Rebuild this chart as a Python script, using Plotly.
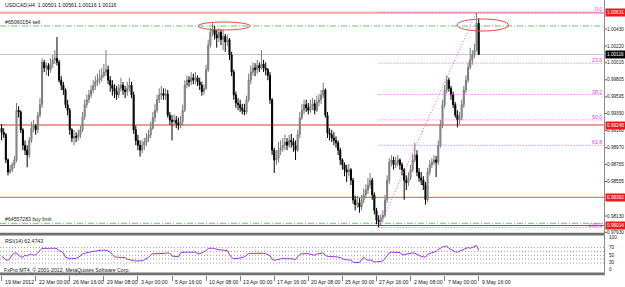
import plotly.graph_objects as go

W, H = 625, 287


def py(p):
    return (H - p) / H


def pxx(p):
    return p / W


symbol_line = "USDCAD,H4  1.00501 1.00561 1.00116 1.00116"
first_open = 0.9921

close = [
    0.9916, 0.9913, 0.9882, 0.9867, 0.9870, 0.9876, 0.9882, 0.9943, 0.9941, 0.9919,
    0.9900, 0.9894, 0.9888, 0.9906, 0.9921, 0.9924, 0.9919, 0.9937, 0.9950, 1.0002,
    0.9995, 0.9998, 0.9993, 1.0000, 1.0005, 1.0007, 1.0002, 0.9980, 0.9974, 0.9968,
    0.9950, 0.9943, 0.9919, 0.9909, 0.9911, 0.9910, 0.9913, 0.9919, 0.9935, 0.9950,
    0.9956, 0.9962, 0.9968, 0.9973, 0.9978, 0.9980, 0.9983, 0.9986, 0.9990, 0.9993,
    0.9980, 0.9974, 0.9970, 0.9966, 0.9962, 0.9970, 0.9974, 0.9968, 0.9966, 0.9970,
    0.9974, 0.9962, 0.9919, 0.9906, 0.9900, 0.9894, 0.9900, 0.9904, 0.9909, 0.9913,
    0.9921, 0.9934, 0.9943, 0.9956, 0.9962, 0.9964, 0.9961, 0.9963, 0.9937, 0.9931,
    0.9929, 0.9931, 0.9927, 0.9925, 0.9929, 0.9943, 0.9974, 0.9980, 0.9978, 0.9983,
    0.9980, 0.9983, 0.9978, 0.9974, 0.9966, 0.9970, 0.9993, 1.0023, 1.0039, 1.0042,
    1.0036, 1.0032, 1.0039, 1.0030, 1.0034, 1.0027, 1.0030, 1.0011, 0.9990, 0.9962,
    0.9952, 0.9950, 0.9946, 0.9943, 0.9941, 0.9956, 0.9980, 0.9990, 0.9995, 0.9993,
    0.9998, 0.9995, 1.0000, 0.9995, 0.9993, 0.9986, 0.9956, 0.9894, 0.9882, 0.9884,
    0.9894, 0.9897, 0.9900, 0.9904, 0.9900, 0.9906, 0.9904, 0.9900, 0.9894, 0.9913,
    0.9934, 0.9943, 0.9950, 0.9946, 0.9943, 0.9948, 0.9951, 0.9943, 0.9953, 0.9956,
    0.9962, 0.9968, 0.9937, 0.9915, 0.9913, 0.9909, 0.9906, 0.9903, 0.9894, 0.9882,
    0.9876, 0.9870, 0.9867, 0.9870, 0.9857, 0.9833, 0.9827, 0.9829, 0.9824, 0.9833,
    0.9839, 0.9845, 0.9851, 0.9857, 0.9839, 0.9820, 0.9808, 0.9806, 0.9811, 0.9814,
    0.9833, 0.9857, 0.9879, 0.9882, 0.9876, 0.9878, 0.9882, 0.9876, 0.9870, 0.9857,
    0.9854, 0.9860, 0.9870, 0.9882, 0.9888, 0.9867, 0.9860, 0.9857, 0.9851, 0.9833,
    0.9867, 0.9876, 0.9879, 0.9882, 0.9879, 0.9900, 0.9925, 0.9950, 0.9968, 0.9980,
    0.9970, 0.9962, 0.9950, 0.9937, 0.9931, 0.9934, 0.9950, 0.9968, 0.9980, 0.9996,
    1.0005, 1.0011, 1.0017, 1.0050, 1.00116,
]

high = [
    0.9926, 0.9921, 0.9915, 0.9884, 0.9876, 0.9879, 0.9887, 0.9952, 0.9948, 0.9943,
    0.9921, 0.9906, 0.9900, 0.9910, 0.9929, 0.9931, 0.9926, 0.9941, 0.9958, 1.0007,
    1.0005, 1.0002, 1.0001, 1.0007, 1.0011, 1.0017, 1.0033, 1.0005, 0.9985, 0.9978,
    0.9970, 0.9956, 0.9946, 0.9921, 0.9919, 0.9916, 0.9919, 0.9924, 0.9941, 0.9956,
    0.9962, 0.9968, 0.9974, 0.9980, 0.9985, 0.9988, 0.9993, 0.9995, 1.0000, 1.0017,
    0.9998, 0.9985, 0.9980, 0.9975, 0.9973, 0.9975, 0.9983, 0.9978, 0.9973, 0.9978,
    0.9983, 0.9978, 0.9966, 0.9924, 0.9913, 0.9906, 0.9906, 0.9909, 0.9915, 0.9919,
    0.9929, 0.9941, 0.9951, 0.9962, 0.9970, 0.9973, 0.9970, 0.9970, 0.9968, 0.9941,
    0.9937, 0.9938, 0.9936, 0.9934, 0.9936, 0.9950, 0.9980, 0.9986, 0.9985, 0.9990,
    0.9988, 0.9990, 0.9986, 0.9983, 0.9978, 0.9975, 0.9999, 1.0030, 1.0044, 1.0050,
    1.0047, 1.0042, 1.0044, 1.0042, 1.0042, 1.0037, 1.0036, 1.0032, 1.0015, 0.9993,
    0.9966, 0.9958, 0.9956, 0.9951, 0.9951, 0.9961, 0.9988, 0.9998, 1.0002, 1.0001,
    1.0005, 1.0002, 1.0017, 1.0005, 1.0002, 0.9995, 0.9990, 0.9958, 0.9897, 0.9894,
    0.9904, 0.9906, 0.9909, 0.9913, 0.9909, 0.9913, 0.9914, 0.9909, 0.9906, 0.9919,
    0.9941, 0.9951, 0.9956, 0.9956, 0.9952, 0.9956, 0.9958, 0.9956, 0.9961, 0.9963,
    0.9968, 0.9977, 0.9970, 0.9941, 0.9921, 0.9919, 0.9916, 0.9911, 0.9906, 0.9897,
    0.9884, 0.9879, 0.9876, 0.9877, 0.9872, 0.9860, 0.9838, 0.9838, 0.9835, 0.9839,
    0.9847, 0.9852, 0.9860, 0.9866, 0.9860, 0.9842, 0.9823, 0.9814, 0.9815, 0.9820,
    0.9839, 0.9863, 0.9884, 0.9888, 0.9886, 0.9886, 0.9888, 0.9884, 0.9879, 0.9872,
    0.9863, 0.9867, 0.9876, 0.9889, 0.9903, 0.9894, 0.9872, 0.9867, 0.9862, 0.9855,
    0.9872, 0.9882, 0.9884, 0.9888, 0.9887, 0.9906, 0.9931, 0.9956, 0.9974, 0.9986,
    0.9983, 0.9973, 0.9966, 0.9953, 0.9943, 0.9941, 0.9956, 0.9973, 0.9986, 1.0002,
    1.0020, 1.0017, 1.0025, 1.0063, 1.00561,
]

low = [
    0.9906, 0.9909, 0.9878, 0.9863, 0.9865, 0.9867, 0.9872, 0.9879, 0.9934, 0.9915,
    0.9894, 0.9888, 0.9873, 0.9884, 0.9903, 0.9916, 0.9913, 0.9915, 0.9934, 0.9946,
    0.9990, 0.9986, 0.9985, 0.9989, 0.9995, 1.0000, 0.9998, 0.9977, 0.9968, 0.9962,
    0.9946, 0.9937, 0.9913, 0.9904, 0.9900, 0.9904, 0.9906, 0.9909, 0.9916, 0.9931,
    0.9946, 0.9952, 0.9958, 0.9964, 0.9968, 0.9973, 0.9975, 0.9978, 0.9983, 0.9985,
    0.9975, 0.9966, 0.9961, 0.9958, 0.9956, 0.9958, 0.9966, 0.9962, 0.9958, 0.9961,
    0.9966, 0.9958, 0.9914, 0.9900, 0.9894, 0.9886, 0.9890, 0.9894, 0.9899, 0.9904,
    0.9909, 0.9919, 0.9929, 0.9940, 0.9952, 0.9956, 0.9956, 0.9956, 0.9934, 0.9925,
    0.9906, 0.9924, 0.9921, 0.9919, 0.9921, 0.9924, 0.9941, 0.9970, 0.9972, 0.9974,
    0.9975, 0.9975, 0.9973, 0.9968, 0.9961, 0.9962, 0.9968, 0.9990, 1.0020, 1.0034,
    1.0030, 1.0020, 1.0027, 1.0023, 1.0017, 1.0015, 1.0022, 1.0005, 0.9985, 0.9956,
    0.9946, 0.9943, 0.9941, 0.9938, 0.9937, 0.9938, 0.9953, 0.9975, 0.9986, 0.9985,
    0.9988, 0.9990, 0.9993, 0.9990, 0.9986, 0.9980, 0.9951, 0.9888, 0.9866, 0.9876,
    0.9879, 0.9888, 0.9892, 0.9894, 0.9894, 0.9897, 0.9897, 0.9892, 0.9882, 0.9892,
    0.9909, 0.9931, 0.9938, 0.9941, 0.9938, 0.9940, 0.9943, 0.9938, 0.9941, 0.9948,
    0.9951, 0.9958, 0.9934, 0.9909, 0.9906, 0.9904, 0.9900, 0.9897, 0.9888, 0.9876,
    0.9870, 0.9862, 0.9855, 0.9862, 0.9851, 0.9828, 0.9820, 0.9823, 0.9817, 0.9820,
    0.9829, 0.9835, 0.9840, 0.9847, 0.9833, 0.9815, 0.9803, 0.9799, 0.9802, 0.9806,
    0.9811, 0.9829, 0.9852, 0.9874, 0.9870, 0.9872, 0.9874, 0.9870, 0.9863, 0.9833,
    0.9845, 0.9850, 0.9857, 0.9867, 0.9879, 0.9862, 0.9855, 0.9851, 0.9845, 0.9827,
    0.9830, 0.9863, 0.9872, 0.9876, 0.9861, 0.9876, 0.9897, 0.9921, 0.9946, 0.9964,
    0.9966, 0.9956, 0.9946, 0.9934, 0.9922, 0.9926, 0.9931, 0.9946, 0.9964, 0.9977,
    0.9993, 0.9999, 1.0007, 1.0015, 1.00116,
]

rsi = [
    46, 44, 38, 37, 42, 52, 55, 56, 50, 46,
    45, 50, 48, 52, 53, 50, 51, 58, 62, 68,
    67, 68, 67, 68, 69, 68, 67, 62, 60, 56,
    45, 42, 41, 41, 41, 42, 44, 49, 53, 55,
    57, 58, 59, 60, 61, 62, 62, 63, 63, 63,
    61, 58, 52, 46, 45, 45, 44, 44, 44, 40,
    38, 37, 36, 35, 35, 35, 36, 38, 41, 45,
    50, 54, 54, 54, 55, 54, 55, 55, 56, 55,
    48, 47, 46, 46, 56, 58, 58, 58, 58, 58,
    57, 58, 55, 54, 56, 58, 62, 68, 69, 68,
    67, 65, 64, 64, 63, 63, 62, 52, 44, 41,
    41, 42, 43, 44, 46, 50, 54, 55, 55, 55,
    56, 55, 56, 55, 54, 52, 49, 40, 37, 38,
    40, 41, 42, 41, 42, 41, 41, 40, 39, 46,
    52, 54, 55, 54, 54, 53, 52, 50, 53, 54,
    55, 56, 50, 47, 47, 47, 46, 46, 45, 44,
    41, 39, 38, 38, 37, 32, 31, 31, 31, 38,
    45, 40, 37, 38, 35, 33, 33, 33, 34, 35,
    42, 50, 56, 58, 58, 57, 58, 57, 52, 51,
    53, 54, 55, 56, 55, 52, 51, 47, 46, 45,
    52, 55, 57, 58, 60, 65, 69, 71, 73, 74,
    68, 65, 61, 59, 58, 60, 63, 66, 68, 70,
    68, 70, 72, 75, 62.47,
]
rsi_caption = "RSI(14) 62.4743"
rsi_levels = [70, 60, 50, 40, 30]
rsi_scale_labels = ["100", "70", "50", "30", "0"]

date_labels = ["19 Mar 2012", "22 Mar 00:00", "26 Mar 16:00", "29 Mar 08:00",
               "3 Apr 00:00", "5 Apr 16:00", "10 Apr 08:00", "13 Apr 00:00",
               "17 Apr 16:00", "20 Apr 08:00", "25 Apr 00:00", "27 Apr 16:00",
               "2 May 08:00", "7 May 00:00", "9 May 16:00"]
date_label_bars = [0, 16, 32, 48, 64, 80, 96, 112, 128, 144, 160, 176, 192, 208, 224]

price_ticks = [1.00430, 1.00220, 1.00015, 0.99805, 0.99595, 0.99390, 0.99180,
               0.98970, 0.98765, 0.98555, 0.98130, 0.97930]
red_levels = [1.00631, 0.99248, 0.98360, 0.98014]
bid_price = 1.00116
sell_order_price = 1.00467
sell_order_text = "#65060154 sell"
buy_limit_price = 0.98041
buy_limit_text = "#64557283 buy limit"
fib_low, fib_high = 0.97989, 1.00635
fib_low_bar, fib_high_bar = 177, 223
fib_ratios = [0.0, 23.6, 38.2, 50.0, 61.8, 100.0]
ellipse_1 = dict(bar0=92.2, bar1=116.6, p0=1.00418, p1=1.00516)
ellipse_2 = dict(bar0=213.8, bar1=238.0, p0=1.00405, p1=1.00553)
copyright_text = "FxPro MT4, \u00a9 2001-2012, MetaQuotes Software Corp."

# ---------------------------------------------------------------- layout geometry
FONT = "Liberation Sans"
FS = 5.2
FS_AX = 4.7
PLOT_R = 605
bar_px0, bar_step = 1.6, 2.13
x_range = [-bar_px0 / bar_step, (PLOT_R - bar_px0) / bar_step]
fib_end_bar = (603 - bar_px0) / bar_step
main_top_px, main_bot_px = 0, 233
px_per_price = 8132.0
main_range = [1.0043 - (main_bot_px - 29) / px_per_price, 1.0043 + 29 / px_per_price]

n = len(close)
assert len(high) == n and len(low) == n and len(rsi) == n, (len(high), len(low), len(rsi))
opens = [first_open] + close[:-1]
bars = list(range(n))

fig = go.Figure()
fig.add_trace(go.Candlestick(
    x=bars, open=opens, high=high, low=low, close=close,
    increasing=dict(line=dict(color="#7a7a7a", width=1), fillcolor="#a8a8a8"),
    decreasing=dict(line=dict(color="#000000", width=1), fillcolor="#000000"),
    whiskerwidth=0, hoverinfo="skip", showlegend=False, xaxis="x", yaxis="y"))

fig.add_trace(go.Scatter(
    x=bars, y=rsi, mode="lines", line=dict(color="#9a35d6", width=1),
    hoverinfo="skip", showlegend=False, xaxis="x2", yaxis="y2"))

shapes = []
ann = []

# horizontal price lines
shapes.append(dict(type="line", xref="paper", yref="y", x0=0, x1=pxx(PLOT_R), y0=bid_price, y1=bid_price,
                   line=dict(color="#c8c8c8", width=1), layer="below"))
shapes.append(dict(type="line", xref="paper", yref="y", x0=0, x1=pxx(PLOT_R), y0=red_levels[0], y1=red_levels[0],
                   line=dict(color="#f5a3a3", width=2), layer="below"))
shapes.append(dict(type="line", xref="paper", yref="y", x0=0, x1=pxx(PLOT_R), y0=red_levels[1], y1=red_levels[1],
                   line=dict(color="#f29a9a", width=2), layer="below"))
shapes.append(dict(type="line", xref="paper", yref="y", x0=0, x1=pxx(PLOT_R), y0=red_levels[2], y1=red_levels[2],
                   line=dict(color="#e85050", width=1), layer="below"))
shapes.append(dict(type="line", xref="paper", yref="y", x0=0, x1=pxx(PLOT_R), y0=red_levels[3], y1=red_levels[3],
                   line=dict(color="#ee2020", width=1), layer="below"))
for lvl in (sell_order_price, buy_limit_price):
    shapes.append(dict(type="line", xref="paper", yref="y", x0=0, x1=pxx(PLOT_R), y0=lvl, y1=lvl,
                       line=dict(color="#6cc46c", width=1, dash="6px,2px,1px,2px"), layer="below"))

# fibonacci
rng = fib_high - fib_low
for r in fib_ratios:
    lv = fib_high - r / 100.0 * rng
    shapes.append(dict(type="line", xref="x", yref="y", x0=fib_low_bar, x1=fib_end_bar, y0=lv, y1=lv,
                       line=dict(color="#f050f0", width=1, dash="1px,2px"), layer="above"))
    ann.append(dict(xref="paper", yref="y", x=pxx(603), y=lv, xanchor="right", yanchor="bottom",
                    text=("%.1f" % r), showarrow=False, font=dict(family=FONT, size=FS, color="#e040e0"),
                    borderpad=0, yshift=-1))
shapes.append(dict(type="line", xref="x", yref="y", x0=fib_low_bar, x1=fib_high_bar, y0=fib_low, y1=fib_high,
                   line=dict(color="#f050f0", width=1, dash="1px,2px"), layer="above"))

# ellipses
for e in (ellipse_1, ellipse_2):
    shapes.append(dict(type="circle", xref="x", yref="y", x0=e["bar0"], x1=e["bar1"], y0=e["p0"], y1=e["p1"],
                       line=dict(color="#e44a4a", width=1), layer="above"))

# rsi levels
for lv in rsi_levels:
    shapes.append(dict(type="line", xref="paper", yref="y2", x0=0, x1=pxx(PLOT_R), y0=lv, y1=lv,
                       line=dict(color="#a0a0a0", width=1, dash="1px,2px"), layer="below"))

# separators and right axis line
shapes.append(dict(type="rect", xref="paper", yref="paper", x0=0, x1=pxx(PLOT_R),
                   y0=py(235.5), y1=py(232.8), fillcolor="#707070", line=dict(width=0), layer="above"))
shapes.append(dict(type="rect", xref="paper", yref="paper", x0=0, x1=pxx(PLOT_R),
                   y0=py(275.2), y1=py(272.5), fillcolor="#707070", line=dict(width=0), layer="above"))
shapes.append(dict(type="line", xref="paper", yref="paper", x0=pxx(PLOT_R - 0.5), x1=pxx(PLOT_R - 0.5),
                   y0=py(275.2), y1=1, line=dict(color="#8c8c8c", width=1), layer="above"))
# price-scale tick marks
for t in price_ticks:
    shapes.append(dict(type="line", xref="paper", yref="y", x0=pxx(PLOT_R), x1=pxx(PLOT_R + 2), y0=t, y1=t,
                       line=dict(color="#606060", width=1)))

# right price labels
for t in price_ticks:
    ann.append(dict(xref="paper", yref="y", x=pxx(PLOT_R + 1), y=t, xanchor="left", yanchor="middle",
                    text="%.5f" % t, showarrow=False, borderpad=0,
                    font=dict(family=FONT, size=FS_AX, color="#202020")))
for lv in red_levels:
    ann.append(dict(xref="paper", yref="y", x=pxx(PLOT_R), y=lv, xanchor="left", yanchor="middle",
                    text="%.5f" % lv, showarrow=False, bgcolor="#f01818", borderpad=1,
                    font=dict(family=FONT, size=FS_AX, color="#ffffff")))
ann.append(dict(xref="paper", yref="y", x=pxx(PLOT_R), y=bid_price, xanchor="left", yanchor="middle",
                text="%.5f" % bid_price, showarrow=False, bgcolor="#000000", borderpad=1,
                font=dict(family=FONT, size=FS_AX, color="#ffffff")))

# rsi scale labels
rsi_label_px = [237.5, 247.0, 255.0, 262.5, 269.3]
for txt, p in zip(rsi_scale_labels, rsi_label_px):
    ann.append(dict(xref="paper", yref="paper", x=pxx(PLOT_R + 3), y=py(p), xanchor="left", yanchor="middle",
                    text=txt, showarrow=False, borderpad=0,
                    font=dict(family=FONT, size=FS_AX, color="#202020")))

# texts
ann.append(dict(xref="paper", yref="paper", x=pxx(3), y=py(5.5), xanchor="left", yanchor="middle",
                text=symbol_line, showarrow=False, font=dict(family=FONT, size=FS, color="#101010")))
ann.append(dict(xref="paper", yref="y", x=pxx(3), y=sell_order_price, xanchor="left", yanchor="bottom",
                text=sell_order_text, showarrow=False, font=dict(family=FONT, size=FS, color="#202020"), yshift=-1))
ann.append(dict(xref="paper", yref="y", x=pxx(3), y=buy_limit_price, xanchor="left", yanchor="bottom",
                text=buy_limit_text, showarrow=False, font=dict(family=FONT, size=FS, color="#202020"), yshift=-1))
ann.append(dict(xref="paper", yref="paper", x=pxx(3), y=py(241), xanchor="left", yanchor="middle",
                text=rsi_caption, showarrow=False, font=dict(family=FONT, size=FS, color="#202020")))
ann.append(dict(xref="paper", yref="paper", x=pxx(2), y=py(270.0), xanchor="left", yanchor="middle",
                text=copyright_text, showarrow=False, font=dict(family=FONT, size=FS, color="#202020")))
for b, txt in zip(date_label_bars, date_labels):
    ann.append(dict(xref="x", yref="paper", x=b, y=py(282), xanchor="left", yanchor="middle", xshift=1,
                    text=txt, showarrow=False, font=dict(family=FONT, size=FS, color="#202020")))

axis_off = dict(showgrid=False, zeroline=False, showticklabels=False, ticks="", showline=False)
fig.update_layout(
    width=W, height=H, margin=dict(l=0, r=0, t=0, b=0),
    paper_bgcolor="#ffffff", plot_bgcolor="#ffffff", showlegend=False,
    xaxis=dict(domain=[0, pxx(PLOT_R)], range=x_range, anchor="y", rangeslider=dict(visible=False), **axis_off),
    yaxis=dict(domain=[py(main_bot_px), py(main_top_px)], range=main_range, anchor="x", **axis_off),
    xaxis2=dict(domain=[0, pxx(PLOT_R)], range=x_range, anchor="y2",
                showgrid=False, zeroline=False, showticklabels=False, showline=False,
                ticks="outside", ticklen=5, tickcolor="#808080", tickvals=date_label_bars),
    yaxis2=dict(domain=[py(274.6), py(235.9)], range=[0, 100], anchor="x2", **axis_off),
    shapes=shapes, annotations=ann,
)

fig.write_html("out.html")
